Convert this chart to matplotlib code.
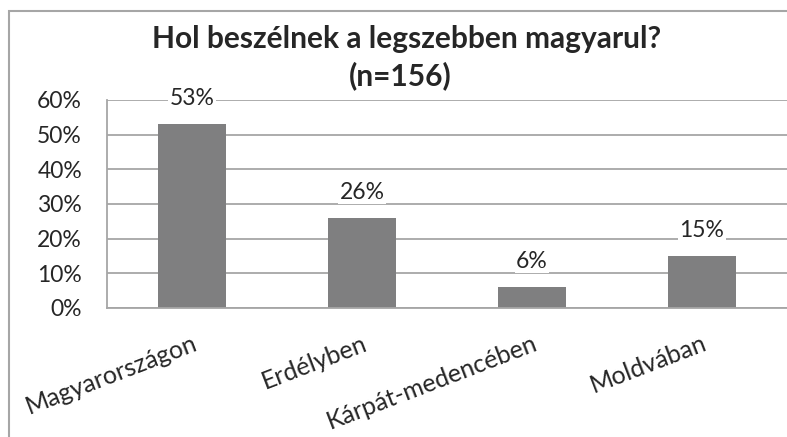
import matplotlib.pyplot as plt
from matplotlib.patches import Rectangle
from matplotlib.ticker import PercentFormatter

plt.rcParams['font.family'] = ['Lato', 'DejaVu Sans']

# Data
categories = ['Magyarországon', 'Erdélyben', 'Kárpát-medencében', 'Moldvában']
shares = [53, 26, 6, 15]
title_line1 = 'Hol beszélnek a legszebben magyarul?'
title_line2 = '(n=156)'

text_col = '#262626'
grid_col = '#a6a6a6'
bar_col = '#7f7f80'

fig = plt.figure(figsize=(7.87, 4.37), dpi=100)
ax = fig.add_axes([107 / 787, 1 - 308 / 437, 680 / 787, 208 / 437])

x = range(len(categories))
bars = ax.bar(x, shares, width=0.4, color=bar_col, zorder=2)

ax.set_xlim(-0.5, len(categories) - 0.5)
ax.set_ylim(0, 60)
ax.set_yticks(range(0, 61, 10))
ax.yaxis.set_major_formatter(PercentFormatter(decimals=0))
ax.yaxis.grid(True, color=grid_col, lw=1.3, zorder=0)
ax.set_axisbelow(True)

for side in ['top', 'right']:
    ax.spines[side].set_visible(False)
ax.spines['left'].set_color(grid_col)
ax.spines['bottom'].set_color(grid_col)
ax.spines['left'].set_linewidth(1.3)
ax.spines['bottom'].set_linewidth(1.3)

ax.tick_params(axis='y', length=0, pad=18, labelsize=16.5, labelcolor=text_col)
ax.tick_params(axis='x', length=0, pad=17)
ax.set_xticks(list(x))
ax.set_xticklabels(categories, rotation=21, ha='right', rotation_mode='anchor',
                   fontsize=18, color=text_col)

for b, v in zip(bars, shares):
    ax.annotate(f'{v}%', (b.get_x() + b.get_width() / 2, v),
                xytext=(0, 11), textcoords='offset points',
                ha='center', va='bottom', fontsize=16.5, color=text_col,
                bbox=dict(boxstyle='square,pad=0.05', fc='white', ec='none'),
                zorder=3)

fig.text(0.517, 1 - 48 / 437, title_line1, ha='center', va='baseline',
         fontsize=21.5, fontweight='bold', color=text_col)
fig.text(0.508, 1 - 85 / 437, title_line2, ha='center', va='baseline',
         fontsize=21.5, fontweight='bold', color=text_col)

# outer chart border (only top and left visible in the crop)
fig.patches.append(Rectangle((9 / 787, -0.1), 1.2, 1.1 - 11 / 437,
                             transform=fig.transFigure, fill=False,
                             ec=grid_col, lw=1.5))

fig.savefig('out.png', dpi=100)
